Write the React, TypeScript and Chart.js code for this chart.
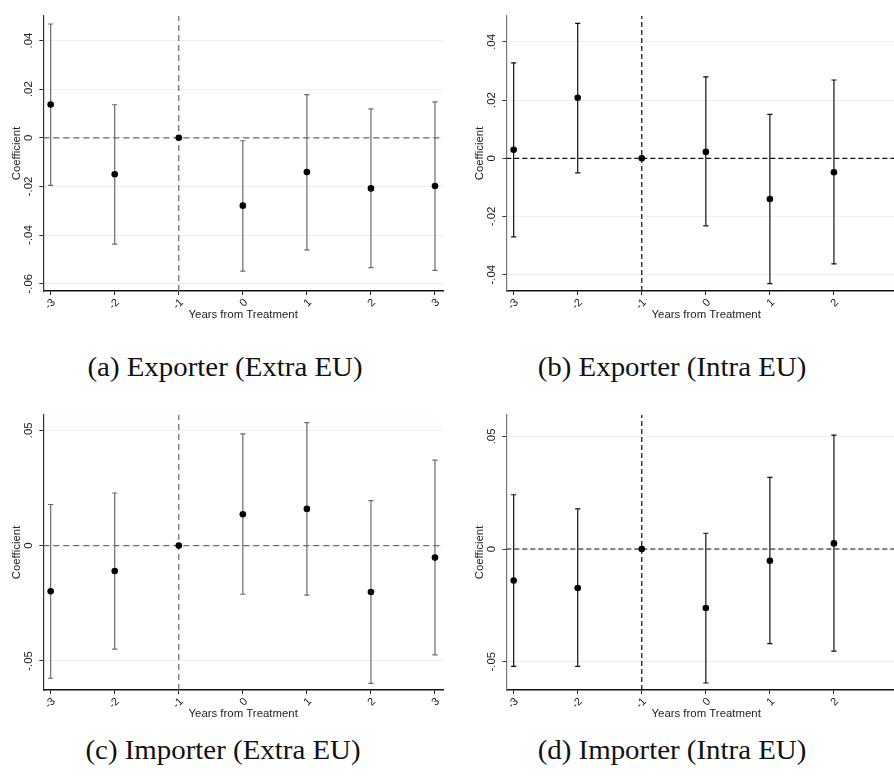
import React, { useEffect, useRef } from "react";
import { Chart, registerables } from "chart.js";
Chart.register(...registerables);

// ---------- shared axis data ----------
const years = [-3, -2, -1, 0, 1, 2, 3];
const xTickLabels = ["-3", "-2", "-1", "0", "1", "2", "3"];
const xRange = [-3.115, 3.125];
const xTitle = "Years from Treatment";
const yTitle = "Coefficient";

// ---------- (a) Exporter (Extra EU) ----------
const coefA = [0.0137, -0.015, 0, -0.0279, -0.0141, -0.0208, -0.0198];
const lowA = [-0.0196, -0.0437, null, -0.0548, -0.0461, -0.0534, -0.0545];
const highA = [0.0468, 0.0136, null, -0.0012, 0.0178, 0.0119, 0.0148];
const yTicksA = [-0.06, -0.04, -0.02, 0, 0.02, 0.04];
const yLabelsA = ["-.06", "-.04", "-.02", "0", ".02", ".04"];
const yRangeA = [-0.063, 0.0501];

// ---------- (b) Exporter (Intra EU) ----------
const coefB = [0.0029, 0.0208, 0, 0.0022, -0.014, -0.0048, null];
const lowB = [-0.027, -0.005, null, -0.0232, -0.0431, -0.0363, null];
const highB = [0.0328, 0.0464, null, 0.028, 0.0151, 0.0269, null];
const yTicksB = [-0.04, -0.02, 0, 0.02, 0.04];
const yLabelsB = ["-.04", "-.02", "0", ".02", ".04"];
const yRangeB = [-0.0456, 0.0489];

// ---------- (c) Importer (Extra EU) ----------
const coefC = [-0.0198, -0.011, 0, 0.0136, 0.0159, -0.0201, -0.0052];
const lowC = [-0.0575, -0.0449, null, -0.0211, -0.0215, -0.0597, -0.0474];
const highC = [0.0178, 0.0228, null, 0.0484, 0.0533, 0.0195, 0.037];
const yTicksC = [-0.05, 0, 0.05];
const yLabelsC = ["-.05", "0", ".05"];
const yRangeC = [-0.0626, 0.0566];

// ---------- (d) Importer (Intra EU) ----------
const coefD = [-0.014, -0.0173, 0, -0.0262, -0.0052, 0.0025, null];
const lowD = [-0.0521, -0.0521, null, -0.0595, -0.042, -0.0453, null];
const highD = [0.0241, 0.0178, null, 0.007, 0.0318, 0.0506, null];
const yTicksD = [-0.05, 0, 0.05];
const yLabelsD = ["-.05", "0", ".05"];
const yRangeD = [-0.0626, 0.0595];

const captions = [
  "(a) Exporter (Extra EU)",
  "(b) Exporter (Intra EU)",
  "(c) Importer (Extra EU)",
  "(d) Importer (Intra EU)",
];

type PanelProps = {
  coef: (number | null)[];
  low: (number | null)[];
  high: (number | null)[];
  yTicks: number[];
  yLabels: string[];
  yRange: number[];
  ciColor: string;
  refColor: string;
  dash: number[];
  yAxisColor: string;
  left: number;
  top: number;
};

const FONT = "'Liberation Sans', Arial, sans-serif";

function Panel(p: PanelProps) {
  const ref = useRef<HTMLCanvasElement | null>(null);
  useEffect(() => {
    if (!ref.current) return;
    const pts = years.map((x, i) => ({ x, y: p.coef[i] }));
    const ci: { x: number; y: number | null }[] = [];
    years.forEach((x, i) => {
      if (p.low[i] !== null && p.high[i] !== null) {
        ci.push({ x, y: p.low[i] as number });
        ci.push({ x, y: p.high[i] as number });
        ci.push({ x, y: null });
      }
    });
    const chart = new Chart(ref.current, {
      type: "scatter",
      data: {
        datasets: [
          {
            data: pts as any,
            showLine: false,
            pointRadius: 3.3,
            pointBackgroundColor: "#000",
            pointBorderWidth: 0,
            pointHoverRadius: 3.3,
          },
          {
            data: ci as any,
            showLine: true,
            spanGaps: false,
            borderColor: p.ciColor,
            borderWidth: 1.2,
            pointStyle: "line",
            pointRadius: 2.6,
            pointBorderColor: p.ciColor,
            pointBorderWidth: 1.2,
            pointHoverRadius: 2.6,
          },
          {
            data: [
              { x: xRange[0], y: 0 },
              { x: xRange[1], y: 0 },
            ],
            showLine: true,
            borderColor: p.refColor,
            borderWidth: 1.2,
            borderDash: p.dash,
            pointRadius: 0,
          },
          {
            data: [
              { x: -1, y: p.yRange[0] },
              { x: -1, y: p.yRange[1] },
            ],
            showLine: true,
            borderColor: p.refColor,
            borderWidth: 1.2,
            borderDash: p.dash,
            pointRadius: 0,
          },
        ],
      },
      options: {
        responsive: false,
        animation: false,
        events: [],
        layout: { padding: { top: 16, right: 7, bottom: 0, left: 0 } },
        plugins: { legend: { display: false }, tooltip: { enabled: false } },
        scales: {
          x: {
            type: "linear",
            min: xRange[0],
            max: xRange[1],
            afterBuildTicks: (s: any) => {
              s.ticks = years.map((v) => ({ value: v }));
            },
            afterFit: (s: any) => {
              s.height = 32;
            },
            grid: {
              drawOnChartArea: false,
              drawTicks: true,
              tickLength: 4,
              tickColor: "#222",
              tickWidth: 1,
            },
            border: { display: true, color: "#111", width: 1.5 },
            ticks: {
              autoSkip: false,
              minRotation: 45,
              maxRotation: 45,
              padding: 1,
              labelOffset: 3,
              color: "#222",
              font: { family: FONT, size: 11 },
              callback: (_v: any, i: number) => xTickLabels[i],
            },
            title: {
              display: true,
              text: xTitle,
              color: "#222",
              font: { family: FONT, size: 11.4 },
              padding: { top: 0, bottom: 1 },
            },
          },
          y: {
            type: "linear",
            min: p.yRange[0],
            max: p.yRange[1],
            afterBuildTicks: (s: any) => {
              s.ticks = p.yTicks.map((v) => ({ value: v }));
            },
            afterFit: (s: any) => {
              s.width = 43.3;
            },
            grid: {
              color: "#e8f0f0",
              lineWidth: 1,
              drawTicks: true,
              tickLength: 4,
              tickColor: "#333",
              tickWidth: 1,
            },
            border: { display: true, color: p.yAxisColor, width: 1.2 },
            ticks: {
              minRotation: 90,
              maxRotation: 90,
              crossAlign: "center",
              padding: 1,
              color: "#222",
              font: { family: FONT, size: 11.4 },
              callback: (_v: any, i: number) => p.yLabels[i],
            },
            title: {
              display: true,
              text: yTitle,
              color: "#222",
              font: { family: FONT, size: 11.4 },
              padding: { top: 10, bottom: 0 },
            },
          },
        },
      } as any,
    });
    return () => chart.destroy();
  }, []);
  return (
    <canvas
      ref={ref}
      width={450}
      height={323}
      style={{ position: "absolute", left: p.left, top: p.top, width: 450, height: 323 }}
    />
  );
}

function Caption({ text, cx, cy }: { text: string; cx: number; cy: number }) {
  return (
    <div
      style={{
        position: "absolute",
        left: cx - 220,
        width: 440,
        top: cy - 17,
        height: 34,
        lineHeight: "34px",
        textAlign: "center",
        fontFamily: "'Liberation Serif', 'Times New Roman', serif",
        fontSize: 27,
        color: "#111",
        whiteSpace: "nowrap",
        transform: "scaleX(1.07)",
      }}
    >
      {text}
    </div>
  );
}

export default function App() {
  return (
    <div
      style={{
        position: "fixed",
        left: 0,
        top: 0,
        width: 894,
        height: 781,
        overflow: "hidden",
        background: "#fff",
      }}
    >
      <Panel coef={coefA} low={lowA} high={highA} yTicks={yTicksA} yLabels={yLabelsA} yRange={yRangeA}
        ciColor="#6a6a6a" refColor="#6a6a6a" dash={[6, 4]} yAxisColor="#333" left={0} top={0} />
      <Panel coef={coefB} low={lowB} high={highB} yTicks={yTicksB} yLabels={yLabelsB} yRange={yRangeB}
        ciColor="#111" refColor="#111" dash={[5, 3]} yAxisColor="#777" left={463} top={0} />
      <Panel coef={coefC} low={lowC} high={highC} yTicks={yTicksC} yLabels={yLabelsC} yRange={yRangeC}
        ciColor="#6a6a6a" refColor="#6a6a6a" dash={[6, 4]} yAxisColor="#333" left={0} top={399} />
      <Panel coef={coefD} low={lowD} high={highD} yTicks={yTicksD} yLabels={yLabelsD} yRange={yRangeD}
        ciColor="#111" refColor="#111" dash={[5, 3]} yAxisColor="#777" left={463} top={399} />
      <Caption text={captions[0]} cx={225} cy={367} />
      <Caption text={captions[1]} cx={672} cy={367} />
      <Caption text={captions[2]} cx={223} cy={750} />
      <Caption text={captions[3]} cx={672} cy={750} />
    </div>
  );
}
